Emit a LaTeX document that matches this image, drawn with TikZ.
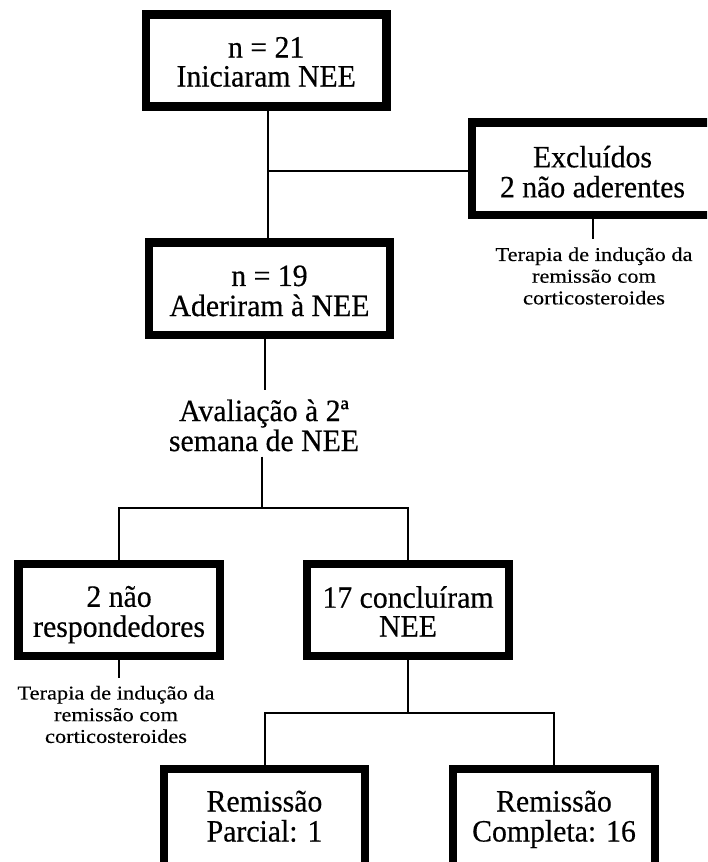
\documentclass[tikz,border=0pt]{standalone}
\usepackage{fontspec}
\setmainfont[FakeStretch=0.96,FakeBold=0.4]{Liberation Serif}
\newfontfamily\notefont[FakeStretch=1.15,FakeBold=0.3]{Liberation Serif}
\newcommand{\twoline}[2][-5.6pt]{\raisebox{#1}[\height][\depth]{\begin{tabular}{@{}c@{}}#2\end{tabular}}}
\begin{document}
\begin{tikzpicture}[x=1pt,y=-1pt,
  box/.style={draw=black, line width=8.3pt, fill=white, inner sep=0pt,
              font=\fontsize{31}{28.3}\selectfont},
  conn/.style={draw=black, line width=2pt},
  note/.style={align=center, inner xsep=2pt, inner ysep=8pt,
               font=\notefont\fontsize{19.5}{21.7}\selectfont},
  lbl/.style={inner sep=0pt, font=\fontsize{31}{28.3}\selectfont}]
\path[use as bounding box, clip] (0,0) rectangle (707,862);
\fill[white] (0,0) rectangle (707,862);

% boxes
\node[box, minimum width=240.5pt, minimum height=92pt]   (b1) at (266.2,60.4)  {\twoline{n = 21\\Iniciaram NEE}};
\node[box, minimum width=241pt,   minimum height=92.5pt] (ex) at (592.5,168.8) {\twoline[-7pt]{Excluídos\\2 não aderentes}};
\node[box, minimum width=240.5pt, minimum height=92.5pt] (b2) at (269.5,288.8) {\twoline[-6.2pt]{n = 19\\Aderiram à NEE}};
\node[lbl] (av) at (264,429.5) {\twoline[0pt]{Avaliação à 2ª\\semana de NEE}};
\node[box, minimum width=201.3pt, minimum height=91.4pt] (nr) at (119.1,610) {\twoline{2 não\\respondedores}};
\node[box, minimum width=201.4pt, minimum height=91.4pt] (cc) at (408,610)   {\twoline{17 concluíram\\NEE}};
\node[box, minimum width=200.4pt, minimum height=100pt]  (rp) at (264.5,819.3) {\twoline[-1pt]{Remissão\\Parcial: 1}};
\node[box, minimum width=201.4pt, minimum height=100pt]  (rc) at (554,819.3)   {\twoline[-1pt]{Remissão\\Completa: 16}};

% side notes
\node[note] (t1) at (594,276)   {Terapia de indução da\\remissão com\\corticosteroides};
\node[note] (t2) at (116,714.5) {Terapia de indução da\\remissão com\\corticosteroides};

% junction coordinates
\coordinate (j1) at (267.7,170.7);
\coordinate (avtop) at (265,390);
\coordinate (avbot) at (262.4,456.7);
\coordinate (j2) at (262.4,508.3);
\coordinate (j3) at (408,713.3);

% connectors
\draw[conn] (b1.south -| j1) -- (b2.north -| j1);
\draw[conn] (j1) -- (ex.west |- j1);
\draw[conn] (ex.south) -- (ex.south |- t1.north);
\draw[conn] (b2.south -| avtop) -- (avtop);
\draw[conn] (avbot) -- (j2);
\draw[conn] (nr.north) |- (j2) -| (cc.north);
\draw[conn] (nr.south) -- (nr.south |- t2.north);
\draw[conn] (cc.south) -- (j3);
\draw[conn] (rp.north) |- (j3) -| (rc.north);
\end{tikzpicture}
\end{document}
